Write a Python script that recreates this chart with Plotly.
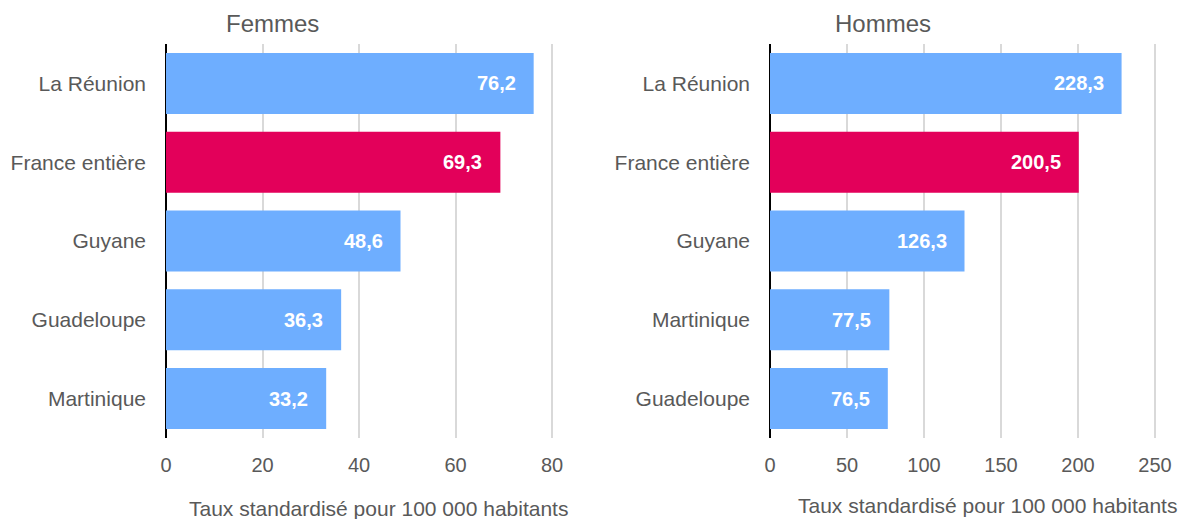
import plotly.graph_objects as go

# Data
femmes_regions = ["La Réunion", "France entière", "Guyane", "Guadeloupe", "Martinique"]
femmes_values = [76.2, 69.3, 48.6, 36.3, 33.2]
hommes_regions = ["La Réunion", "France entière", "Guyane", "Martinique", "Guadeloupe"]
hommes_values = [228.3, 200.5, 126.3, 77.5, 76.5]
highlight = "France entière"
panel_titles = ["Femmes", "Hommes"]
axis_title = "Taux standardisé pour 100 000 habitants"

BLUE = "#6EAEFF"
RED = "#E3005A"
GRID = "#D9D9D9"
TXT = "#595959"
FONT = "Liberation Sans, Arial, sans-serif"

W, H = 1182, 519

def fmt(v):
    return f"{v:.1f}".replace(".", ",")

fig = go.Figure()

panels = [
    (femmes_regions, femmes_values, "x", "y"),
    (hommes_regions, hommes_values, "x2", "y2"),
]
for regions, values, xa, ya in panels:
    colors = [RED if r == highlight else BLUE for r in regions]
    fig.add_trace(go.Bar(
        y=regions, x=values, orientation="h",
        marker=dict(color=colors, line=dict(width=0)),
        xaxis=xa, yaxis=ya, showlegend=False, hoverinfo="skip",
    ))
    for r, v in zip(regions, values):
        fig.add_annotation(
            x=v, y=r, xref=xa, yref=ya, text=f"<b>{fmt(v)}</b>",
            showarrow=False, xanchor="right", xshift=-16,
            font=dict(family=FONT, size=20, color="white"),
        )

px = lambda p: p / W
ydom = [(H - 438) / H, (H - 44) / H]

common_x = dict(
    showgrid=True, gridcolor=GRID, gridwidth=2,
    zeroline=True, zerolinecolor="black", zerolinewidth=2,
    showline=False, ticks="", automargin=False, ticklabelstandoff=13,
    tickfont=dict(family=FONT, size=20, color=TXT),
)
common_y = dict(
    autorange="reversed", showgrid=False, zeroline=False, showline=False,
    ticks="", automargin=False, ticklabelstandoff=19,
    tickfont=dict(family=FONT, size=21, color=TXT),
)

fig.update_layout(
    width=W, height=H,
    margin=dict(l=0, r=0, t=0, b=0),
    paper_bgcolor="white", plot_bgcolor="white",
    bargap=0.226,
    separators=", ",
    xaxis=dict(domain=[px(166), px(560)], range=[0, (560 - 166) / 4.825],
               tickvals=[0, 20, 40, 60, 80], anchor="y", **common_x),
    yaxis=dict(domain=ydom, anchor="x", **common_y),
    xaxis2=dict(domain=[px(770), px(1165)], range=[0, (1165 - 770) / 1.54],
                tickvals=[0, 50, 100, 150, 200, 250], anchor="y2", **common_x),
    yaxis2=dict(domain=ydom, anchor="x2", **common_y),
)

# Panel titles
for title, cx in zip(panel_titles, [272.5, 883]):
    fig.add_annotation(
        x=px(cx), y=(H - 23.5) / H, xref="paper", yref="paper",
        text=title, showarrow=False, xanchor="center", yanchor="middle",
        font=dict(family=FONT, size=24, color=TXT),
    )

# Axis titles
for cx, cy in [(378, 508), (987, 505)]:
    fig.add_annotation(
        x=px(cx), y=(H - cy) / H, xref="paper", yref="paper",
        text=axis_title, showarrow=False, xanchor="center", yanchor="middle",
        font=dict(family=FONT, size=21, color=TXT),
    )

fig.write_html(
    "out.html",
    config={"displayModeBar": False},
    post_script="document.body.style.margin='0px';document.body.style.overflow='hidden';",
)
